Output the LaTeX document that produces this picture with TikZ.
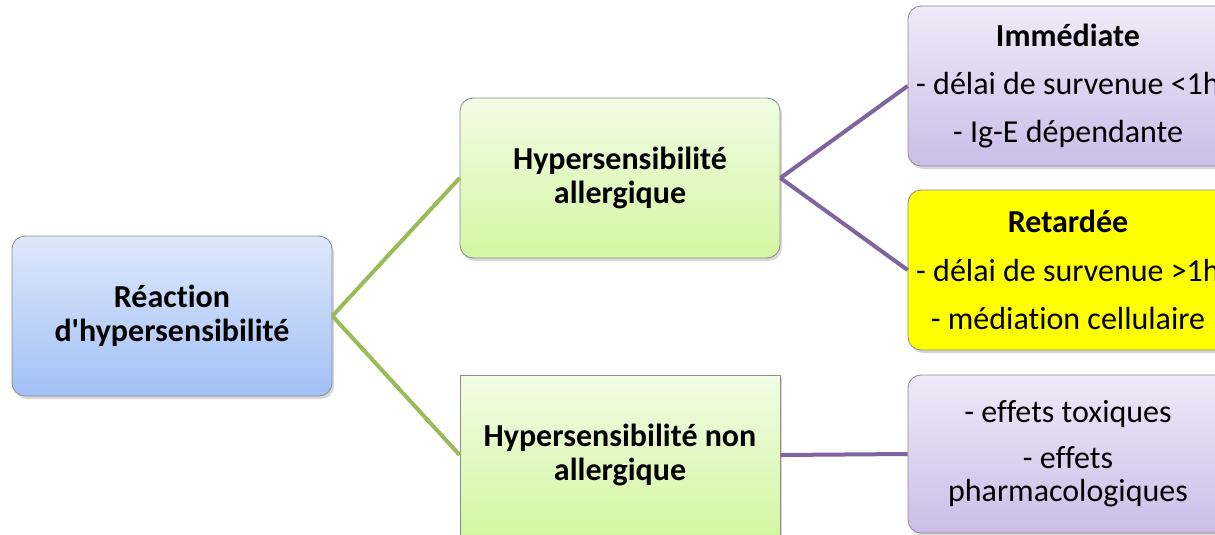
\documentclass[tikz,border=0pt]{standalone}
\usepackage{fontspec}
\setmainfont{Carlito}[Ligatures={NoCommon}]
\usetikzlibrary{shadows}
\definecolor{linegreen}{RGB}{155,187,89}
\definecolor{linepurple}{RGB}{128,100,162}
\definecolor{boxborder}{RGB}{140,140,140}
\definecolor{bluetop}{RGB}{222,232,251}
\definecolor{bluebot}{RGB}{162,192,246}
\definecolor{greentop}{RGB}{241,252,228}
\definecolor{greenbot}{RGB}{212,246,162}
\definecolor{purptop}{RGB}{239,234,248}
\definecolor{purpbot}{RGB}{203,189,232}
\definecolor{yelfill}{RGB}{255,255,0}
\begin{document}
\begin{tikzpicture}[x=1pt,y=-1pt,
  box/.style={draw=boxborder, line width=0.8pt, minimum width=320pt, minimum height=160pt,
    align=center, inner sep=0pt, rounded corners=13pt,
    drop shadow={opacity=0.3, shadow xshift=2pt, shadow yshift=-3pt}},
  bluebox/.style={box, top color=bluetop, bottom color=bluebot},
  greenbox/.style={box, top color=greentop, bottom color=greenbot},
  purplebox/.style={box, top color=purptop, bottom color=purpbot},
  yellowbox/.style={box, fill=yelfill},
  boldtxt/.style={font=\fontsize{32}{33.5}\selectfont\bfseries},
  regtxt/.style={font=\fontsize{32}{33.5}\selectfont},
  gline/.style={draw=linegreen, line width=4pt},
  pline/.style={draw=linepurple, line width=4pt}]
\fill[white] (0,0) rectangle (1215,535);
\useasboundingbox (0,0) rectangle (1215,535);

\node[bluebox, boldtxt] (root) at (172,316) {Réaction\\d\textquotesingle hypersensibilité};
\node[greenbox, boldtxt] (allerg) at (620,178) {Hypersensibilité\\allergique};
\node[greenbox, boldtxt, sharp corners] (nonallerg) at (620,455) {Hypersensibilité non\\allergique};
\node[purplebox, regtxt] (immed) at (1068,86) {\textbf{Immédiate}\\[14.5pt]- délai de survenue <1h\\[14.5pt]- Ig-E dépendante};
\node[yellowbox, regtxt] (retard) at (1068,270) {\textbf{Retardée}\\[15pt]- délai de survenue >1h\\[14.5pt]- médiation cellulaire};
\node[purplebox, regtxt, minimum height=158pt] (nonal) at (1068,454) {- effets toxiques\\[12pt]- effets\\pharmacologiques};

\draw[gline] (root.east) -- (allerg.west);
\draw[gline] (root.east) -- (nonallerg.west);
\draw[pline] (allerg.east) -- (immed.west);
\draw[pline] (allerg.east) -- (retard.west);
\draw[pline] (nonallerg.east) -- (nonal.west);
\end{tikzpicture}
\end{document}
